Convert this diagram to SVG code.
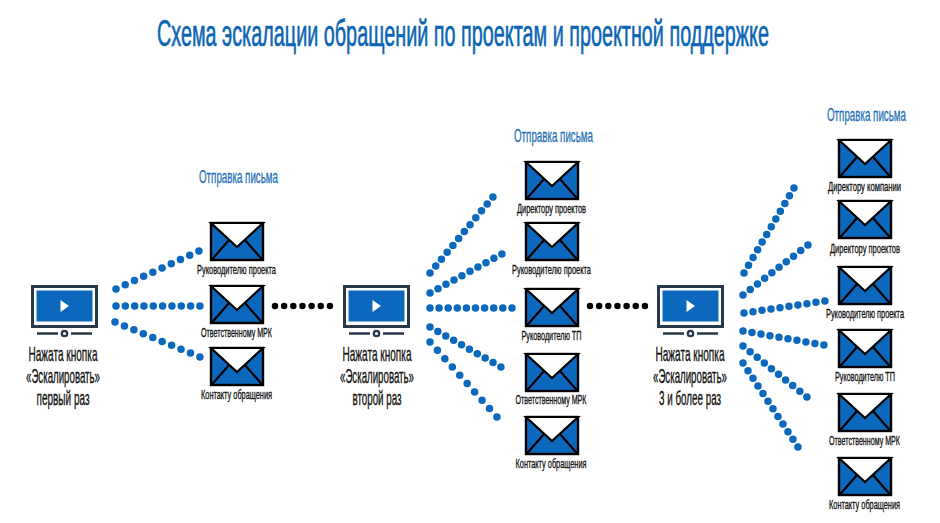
<svg xmlns="http://www.w3.org/2000/svg" width="940" height="523" viewBox="0 0 940 523">
<style>
text{font-family:"Liberation Sans Narrow","Liberation Sans",Arial,sans-serif;text-anchor:middle}
.title{font-size:23px;fill:#0b65b4;stroke:#0b65b4;stroke-width:.4}
.send{font-size:11.500px;fill:#1f6fb5;stroke:#1f6fb5;stroke-width:.2}
.lbl{font-size:8px;fill:#111;stroke:#111;stroke-width:.2}
.cap{font-size:11.800px;fill:#111;stroke:#111;stroke-width:.2}
.d{fill:none;stroke:#0b68bd;stroke-width:7.500;stroke-linecap:round;stroke-dasharray:0 1}
.k{fill:none;stroke:#000;stroke-width:6.500;stroke-linecap:round;stroke-dasharray:0 1}
</style>
<defs>
<g id="env">
<rect x="1" y="1" width="52" height="37" fill="#0b68bd" stroke="#000" stroke-width="2.400"/>
<path d="M1 1H53L27 25Z" fill="#fff" stroke="#000" stroke-width="2.200"/>
<path d="M1.500 38L19 18M52.500 38L35 18" fill="none" stroke="#000" stroke-width="2.200"/>
</g>
<g id="mon">
<rect x="1.500" y="1.500" width="64" height="40" fill="#fff" stroke="#26384a" stroke-width="3"/>
<rect x="5.500" y="5.500" width="56" height="31" fill="#0b68bd"/>
<path d="M29.500 15L38 21L29.500 27Z" fill="#fff"/>
<path d="M6 48.500H27M40 48.500H61" stroke="#26384a" stroke-width="2.500"/>
<circle cx="33.500" cy="48.500" r="2.700" fill="#fff" stroke="#26384a" stroke-width="2.300"/>
</g>
</defs>
<rect width="940" height="523" fill="#fff"/>
<text class="title" transform="translate(463,46) scale(1,1.600)" textLength="612" lengthAdjust="spacingAndGlyphs">Схема эскалации обращений по проектам и проектной поддержке</text>
<g id="connectors">
<line class="d" pathLength="9.010" x1="116" y1="289" x2="199" y2="251"/>
<line class="d" pathLength="9.010" x1="116" y1="306" x2="200" y2="306"/>
<line class="d" pathLength="9.010" x1="115" y1="322" x2="200" y2="357"/>
<line class="k" pathLength="6.010" x1="275" y1="306" x2="330" y2="306"/>
<line class="d" pathLength="11.010" x1="430" y1="273" x2="493" y2="197"/>
<line class="d" pathLength="9.010" x1="430" y1="293" x2="502" y2="254"/>
<line class="d" pathLength="9.010" x1="430" y1="308" x2="512" y2="308"/>
<line class="d" pathLength="9.010" x1="430" y1="327" x2="501" y2="367"/>
<line class="d" pathLength="9.010" x1="430" y1="342" x2="497" y2="417"/>
<line class="k" pathLength="6.010" x1="590" y1="306" x2="645" y2="306"/>
<line class="d" pathLength="11.010" x1="744" y1="273" x2="794" y2="188"/>
<line class="d" pathLength="9.010" x1="743" y1="295" x2="808" y2="245"/>
<line class="d" pathLength="9.010" x1="744" y1="313" x2="825" y2="301"/>
<line class="d" pathLength="9.010" x1="743" y1="331" x2="824" y2="345"/>
<line class="d" pathLength="9.010" x1="743" y1="346" x2="807" y2="397"/>
<line class="d" pathLength="11.010" x1="743" y1="363" x2="798" y2="447"/>
</g>
<g id="send1"><text class="send" transform="translate(238.500,183) scale(1,1.560)" textLength="79" lengthAdjust="spacingAndGlyphs">Отправка письма</text></g>
<g id="send2"><text class="send" transform="translate(553.500,142) scale(1,1.560)" textLength="79" lengthAdjust="spacingAndGlyphs">Отправка письма</text></g>
<g id="send3"><text class="send" transform="translate(866.500,121) scale(1,1.560)" textLength="79" lengthAdjust="spacingAndGlyphs">Отправка письма</text></g>
<g id="mon1"><use href="#mon" x="31" y="285"/>
<text class="cap" transform="translate(63,361) scale(1,1.700)" textLength="69" lengthAdjust="spacingAndGlyphs">Нажата кнопка</text>
<text class="cap" transform="translate(63,383) scale(1,1.700)" textLength="74" lengthAdjust="spacingAndGlyphs">«Эскалировать»</text>
<text class="cap" transform="translate(63,405) scale(1,1.700)" textLength="53" lengthAdjust="spacingAndGlyphs">первый раз</text></g>
<g id="mon2"><use href="#mon" x="343" y="285"/>
<text class="cap" transform="translate(377,361) scale(1,1.700)" textLength="69" lengthAdjust="spacingAndGlyphs">Нажата кнопка</text>
<text class="cap" transform="translate(377,383) scale(1,1.700)" textLength="74" lengthAdjust="spacingAndGlyphs">«Эскалировать»</text>
<text class="cap" transform="translate(377,405) scale(1,1.700)" textLength="49" lengthAdjust="spacingAndGlyphs">второй раз</text></g>
<g id="mon3"><use href="#mon" x="657" y="285"/>
<text class="cap" transform="translate(690,361) scale(1,1.700)" textLength="69" lengthAdjust="spacingAndGlyphs">Нажата кнопка</text>
<text class="cap" transform="translate(690,383) scale(1,1.700)" textLength="74" lengthAdjust="spacingAndGlyphs">«Эскалировать»</text>
<text class="cap" transform="translate(690,405) scale(1,1.700)" textLength="62" lengthAdjust="spacingAndGlyphs">3 и более раз</text></g>
<g id="e11"><use href="#env" x="210" y="222"/><text class="lbl" transform="translate(236.500,274) scale(1,1.700)" textLength="79" lengthAdjust="spacingAndGlyphs">Руководителю проекта</text></g>
<g id="e12"><use href="#env" x="210" y="285"/><text class="lbl" transform="translate(236.500,337) scale(1,1.700)" textLength="71" lengthAdjust="spacingAndGlyphs">Ответственному МРК</text></g>
<g id="e13"><use href="#env" x="210" y="347"/><text class="lbl" transform="translate(236.500,399) scale(1,1.700)" textLength="71" lengthAdjust="spacingAndGlyphs">Контакту обращения</text></g>
<g id="e21"><use href="#env" x="525" y="161"/><text class="lbl" transform="translate(551.500,213) scale(1,1.700)" textLength="69" lengthAdjust="spacingAndGlyphs">Директору проектов</text></g>
<g id="e22"><use href="#env" x="525" y="222"/><text class="lbl" transform="translate(551.500,274) scale(1,1.700)" textLength="79" lengthAdjust="spacingAndGlyphs">Руководителю проекта</text></g>
<g id="e23"><use href="#env" x="525" y="288"/><text class="lbl" transform="translate(551.500,340) scale(1,1.700)" textLength="60" lengthAdjust="spacingAndGlyphs">Руководителю ТП</text></g>
<g id="e24"><use href="#env" x="525" y="353"/><text class="lbl" transform="translate(551,404) scale(1,1.700)" textLength="71" lengthAdjust="spacingAndGlyphs">Ответственному МРК</text></g>
<g id="e25"><use href="#env" x="525" y="416"/><text class="lbl" transform="translate(551,468) scale(1,1.700)" textLength="71" lengthAdjust="spacingAndGlyphs">Контакту обращения</text></g>
<g id="e31"><use href="#env" x="838" y="139"/><text class="lbl" transform="translate(864.500,191) scale(1,1.700)" textLength="73" lengthAdjust="spacingAndGlyphs">Директору компании</text></g>
<g id="e32"><use href="#env" x="838" y="200"/><text class="lbl" transform="translate(865,253) scale(1,1.700)" textLength="70" lengthAdjust="spacingAndGlyphs">Директору проектов</text></g>
<g id="e33"><use href="#env" x="838" y="266"/><text class="lbl" transform="translate(865,318) scale(1,1.700)" textLength="78" lengthAdjust="spacingAndGlyphs">Руководителю проекта</text></g>
<g id="e34"><use href="#env" x="838" y="329"/><text class="lbl" transform="translate(865,381) scale(1,1.700)" textLength="60" lengthAdjust="spacingAndGlyphs">Руководителю ТП</text></g>
<g id="e35"><use href="#env" x="838" y="393"/><text class="lbl" transform="translate(864.500,445) scale(1,1.700)" textLength="71" lengthAdjust="spacingAndGlyphs">Ответственному МРК</text></g>
<g id="e36"><use href="#env" x="838" y="457"/><text class="lbl" transform="translate(864.500,509) scale(1,1.700)" textLength="71" lengthAdjust="spacingAndGlyphs">Контакту обращения</text></g>
</svg>
